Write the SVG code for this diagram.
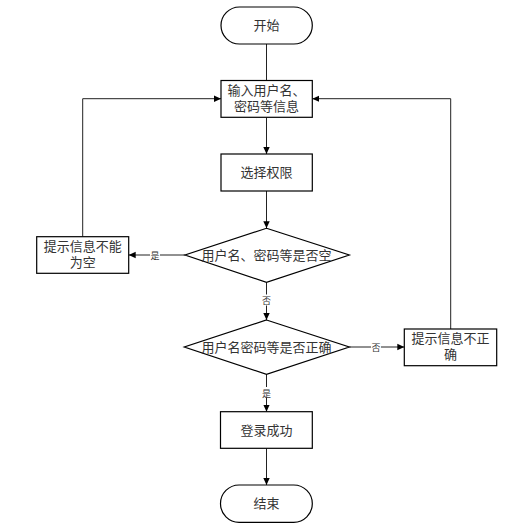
<svg xmlns="http://www.w3.org/2000/svg" width="517" height="532" viewBox="0 0 517 532">
<style>
.n{fill:#fff;stroke:#000;stroke-width:1.2}
.t{font-family:"Liberation Serif","Noto Sans CJK SC",serif;font-size:13px;fill:#333;text-anchor:middle}
.l{font-family:"Liberation Serif","Noto Sans CJK SC",serif;font-size:9px;fill:#333;text-anchor:middle}
.c{fill:none;stroke:#222;stroke-width:1}
.bg{fill:#fff}
</style>
<defs>
<marker id="a" markerWidth="8" markerHeight="8" refX="7" refY="4" orient="auto" markerUnits="userSpaceOnUse">
<path d="M0,0.8 L7,4 L0,7.2 Z" fill="#000"/>
</marker>
</defs>
<rect width="517" height="532" fill="#fff"/>
<g id="connectors">
<path class="c" d="M266.5,44 V80.5"/>
<path class="c" d="M266.5,117.3 V154" marker-end="url(#a)"/>
<path class="c" d="M266.5,191 V228.3" marker-end="url(#a)"/>
<path class="c" d="M185,255 H128.7" marker-end="url(#a)"/>
<path class="c" d="M82.7,236.7 V98.7 H221" marker-end="url(#a)"/>
<path class="c" d="M266.5,282.3 V320" marker-end="url(#a)"/>
<path class="c" d="M349.3,347 H404.3" marker-end="url(#a)"/>
<path class="c" d="M450.7,329 V98.7 H312.3" marker-end="url(#a)"/>
<path class="c" d="M266.5,374.3 V411.7" marker-end="url(#a)"/>
<path class="c" d="M266.5,448.3 V485" marker-end="url(#a)"/>
<rect class="bg" x="150" y="249" width="10" height="11"/>
<text class="l" x="155" y="258.5">是</text>
<rect class="bg" x="261.5" y="294.5" width="10" height="11"/>
<text class="l" x="266.5" y="304">否</text>
<rect class="bg" x="371" y="341.5" width="10" height="11"/>
<text class="l" x="376" y="351">否</text>
<rect class="bg" x="261.5" y="387" width="10" height="11"/>
<text class="l" x="266.5" y="396.5">是</text>
</g>
<g id="start">
<rect class="n" x="221" y="7" width="91.3" height="37" rx="18.5"/>
<text class="t" x="266.5" y="29.5">开始</text>
</g>
<g id="input">
<rect class="n" x="221" y="80.5" width="91.3" height="36.8"/>
<text class="t" x="266.5" y="95">输入用户名、</text>
<text class="t" x="266.5" y="111">密码等信息</text>
</g>
<g id="select">
<rect class="n" x="221" y="154" width="91.3" height="37"/>
<text class="t" x="266.5" y="177">选择权限</text>
</g>
<g id="check-empty">
<path class="n" d="M266.5,228.3 L349.3,255 L266.5,282.3 L185,255 Z"/>
<text class="t" x="266.5" y="259.5">用户名、密码等是否空</text>
</g>
<g id="msg-empty">
<rect class="n" x="36.7" y="236.7" width="92" height="36.6"/>
<text class="t" x="82.7" y="250.5">提示信息不能</text>
<text class="t" x="82.7" y="266.5">为空</text>
</g>
<g id="check-correct">
<path class="n" d="M266.5,320 L349.3,347 L266.5,374.3 L184.3,347 Z"/>
<text class="t" x="266.5" y="351.5">用户名密码等是否正确</text>
</g>
<g id="msg-wrong">
<rect class="n" x="404.3" y="329" width="92.4" height="36.7"/>
<text class="t" x="450.5" y="343">提示信息不正</text>
<text class="t" x="450.5" y="359">确</text>
</g>
<g id="success">
<rect class="n" x="220.5" y="411.7" width="91.8" height="36.6"/>
<text class="t" x="266.5" y="434.5">登录成功</text>
</g>
<g id="end">
<rect class="n" x="220.5" y="485" width="91.8" height="37.3" rx="18.6"/>
<text class="t" x="266.5" y="508">结束</text>
</g>
</svg>
